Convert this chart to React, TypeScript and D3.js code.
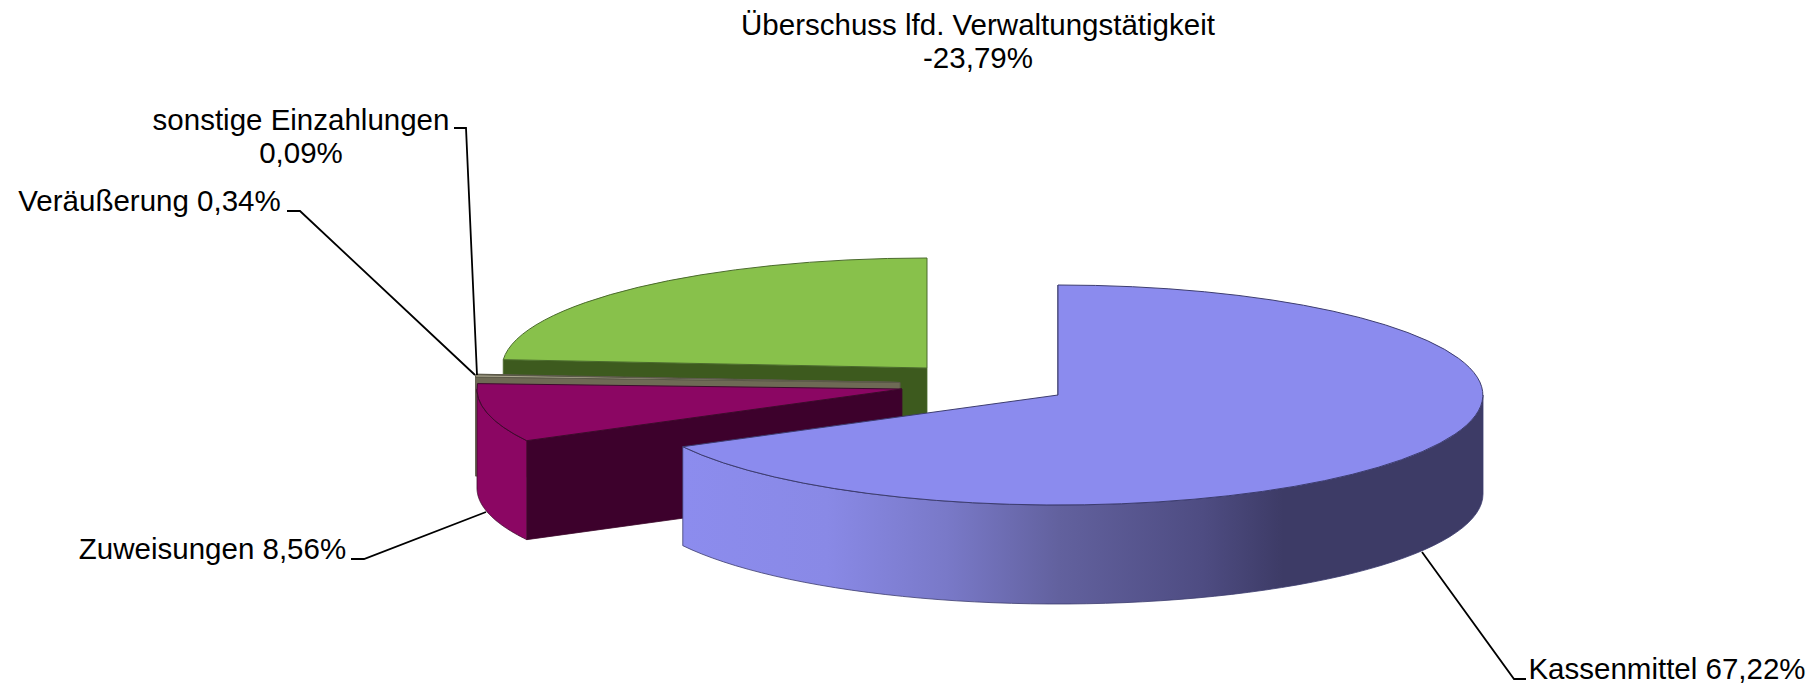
import React from "react";
import * as d3 from "d3";

const titleLines = ["Überschuss lfd. Verwaltungstätigkeit", "-23,79%"];
// order runs clockwise from twelve o'clock, like the original pie
const sliceNames = ["Kassenmittel", "Zuweisungen", "Veräußerung", "sonstige Einzahlungen", "Überschuss"];
const sliceValues = [67.22, 8.56, 0.34, 0.09, 23.79];
const topColors = ["#8b8bee", "#8b0663", "#a9a58d", "#a09c84", "#88c14b"];
const rimColors = ["url(#rimShade)", "#8b0663", "#6e6a55", "#6e6a55", "#3d5a1e"];
const faceColors = ["#3d3b66", "#3d012c", "#6e6a55", "#6e6a55", "#3d5a1e"];
const edgeColors = ["#3c3c6e", "#3d0a2c", "#5a5848", "#5a5848", "#4a6a2c"];

const width = 1818;
const height = 686;
const rx = 425;
const ry = 110;
const depth = 99;
// exploded slices each have their own centre
const centres: [number, number][] = [
  [1058, 395],
  [902, 389],
  [900, 382.5],
  [900, 382.5],
  [927, 368],
];
const paintOrder = [4, 3, 2, 1, 0];

const shadeStops = [
  ["0%", "#8c8cee"],
  ["18%", "#8989e6"],
  ["33%", "#7979c8"],
  ["47%", "#62619e"],
  ["65%", "#4e4c82"],
  ["75%", "#3d3b66"],
  ["100%", "#3d3b66"],
];

const slices = d3.pie<number>().sort(null).startAngle(0).endAngle(2 * Math.PI)(sliceValues);
const unitArc = d3.arc<d3.PieArcDatum<number>>().innerRadius(0).outerRadius(1);

const rimPoint = (i: number, a: number): [number, number] => [
  centres[i][0] + rx * Math.sin(a),
  centres[i][1] - ry * Math.cos(a),
];

const polyLine = d3.line();

// front wall of a slice, only the part between 90 and 270 degrees faces the viewer
const rimPath = (i: number) => {
  const a0 = Math.max(slices[i].startAngle, Math.PI / 2);
  const a1 = Math.min(slices[i].endAngle, (3 * Math.PI) / 2);
  if (a1 <= a0) return null;
  const upper = d3.range(0, 61).map((k) => rimPoint(i, a0 + ((a1 - a0) * k) / 60));
  const lower = upper.map(([x, y]) => [x, y + depth] as [number, number]).reverse();
  return polyLine([...upper, ...lower]) + "Z";
};

// cut wall at the start angle of a slice
const facePath = (i: number) => {
  const [x, y] = rimPoint(i, slices[i].startAngle);
  const [cx, cy] = centres[i];
  return polyLine([
    [cx, cy],
    [x, y],
    [x, y + depth],
    [cx, cy + depth],
  ]) + "Z";
};

type Label = { lines: string[]; x: number; y: number; leader: [number, number][] };

const labels: Label[] = [
  {
    lines: ["sonstige Einzahlungen", "0,09%"],
    x: 301,
    y: 130,
    leader: [[454, 128], [466, 128], [477, 375]],
  },
  {
    lines: ["Veräußerung 0,34%"],
    x: 149.5,
    y: 211,
    leader: [[287, 211], [300, 211], [475, 375]],
  },
  {
    lines: ["Zuweisungen 8,56%"],
    x: 212.5,
    y: 559,
    leader: [[351, 559], [364, 559], [486, 512]],
  },
  {
    lines: ["Kassenmittel 67,22%"],
    x: 1667,
    y: 679,
    leader: [[1526, 679], [1514, 679], [1422, 552]],
  },
];

const fontFamily = "'Liberation Sans', Arial, sans-serif";
const fontSize = 29.5;

export default function App() {
  return (
    <svg
      width={width}
      height={height}
      viewBox={`0 0 ${width} ${height}`}
      style={{ position: "absolute", left: 0, top: 0, display: "block" }}
      fontFamily={fontFamily}
      fontSize={fontSize}
    >
      <defs>
        <linearGradient id="rimShade" gradientUnits="userSpaceOnUse" x1={683} x2={1483} y1={0} y2={0}>
          {shadeStops.map(([offset, color]) => (
            <stop key={offset} offset={offset} stopColor={color} />
          ))}
        </linearGradient>
      </defs>

      {paintOrder.map((i) => {
        const rim = rimPath(i);
        return (
          <g key={sliceNames[i]}>
            <path d={facePath(i)} fill={faceColors[i]} stroke={edgeColors[i]} strokeWidth={0.8} />
            {rim && <path d={rim} fill={rimColors[i]} stroke={edgeColors[i]} strokeWidth={0.8} />}
            <path
              d={unitArc(slices[i]) as string}
              transform={`translate(${centres[i][0]},${centres[i][1]}) scale(${rx},${ry})`}
              fill={topColors[i]}
              stroke={edgeColors[i]}
              strokeWidth={1}
              vectorEffect="non-scaling-stroke"
            />
          </g>
        );
      })}

      {labels.map((l) => (
        <g key={l.lines[0]}>
          <path d={polyLine(l.leader) as string} fill="none" stroke="#000" strokeWidth={1.8} />
          {l.lines.map((t, k) => (
            <text key={t} x={l.x} y={l.y + k * 33} textAnchor="middle" fill="#000">
              {t}
            </text>
          ))}
        </g>
      ))}

      {titleLines.map((t, k) => (
        <text key={t} x={978} y={35 + k * 33} textAnchor="middle" fill="#000">
          {t}
        </text>
      ))}
    </svg>
  );
}
